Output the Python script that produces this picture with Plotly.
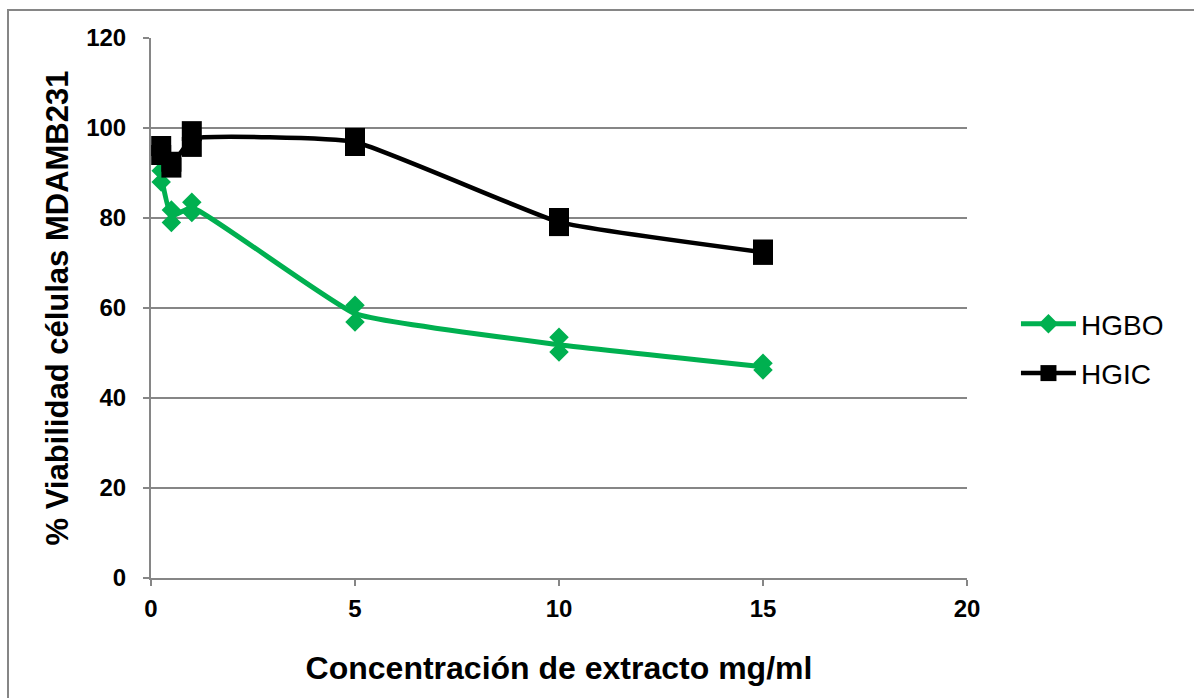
import plotly.graph_objects as go

conc = [0.25, 0.5, 1, 5, 10, 15]
hgbo_rep1 = [90.5, 81.8, 83.5, 60.6, 53.5, 47.7]
hgbo_rep2 = [88.0, 79.0, 81.2, 56.9, 50.2, 46.2]
hgic_rep1 = [96.0, 92.5, 99.3, 97.8, 80.0, 73.0]
hgic_rep2 = [94.0, 91.2, 95.8, 96.0, 78.2, 71.8]

x_ticks = [0, 5, 10, 15, 20]
y_ticks = [0, 20, 40, 60, 80, 100, 120]

GREEN = "#00B050"
BLACK = "#000000"
GRID = "#868686"

def mean(a, b):
    return [(u + v) / 2 for u, v in zip(a, b)]

fig = go.Figure()

series = [
    ("HGBO", hgbo_rep1, hgbo_rep2, GREEN, "diamond", 15, 5),
    ("HGIC", hgic_rep1, hgic_rep2, BLACK, "square", 20, 4.5),
]

for name, r1, r2, col, sym, msize, lw in series:
    fig.add_trace(go.Scatter(
        x=conc, y=mean(r1, r2), mode="lines",
        line=dict(color=col, width=lw, shape="spline", smoothing=0.35),
        showlegend=False, hoverinfo="skip"))
    fig.add_trace(go.Scatter(
        x=conc + conc, y=r1 + r2, mode="markers",
        marker=dict(symbol=sym, size=msize, color=col, line=dict(width=0)),
        showlegend=False))
    fig.add_trace(go.Scatter(
        x=[None], y=[None], mode="lines+markers", name=name, legendgroup=name,
        line=dict(color=col, width=lw),
        marker=dict(symbol=sym, size=msize, color=col)))

fig.update_layout(
    width=1194, height=698,
    margin=dict(l=151, r=227, t=38, b=120),
    paper_bgcolor="white", plot_bgcolor="white",
    font=dict(family="Liberation Sans, Arial, sans-serif", color="black"),
    legend=dict(x=1.06, y=0.425, xanchor="left", yanchor="middle",
                font=dict(size=28, color="black"), itemwidth=55,
                tracegroupgap=10),
    showlegend=True,
)

fig.update_xaxes(
    range=[0, 20], tickvals=x_ticks, ticktext=["<b>%d</b>" % v for v in x_ticks],
    showgrid=False, zeroline=False,
    showline=True, linecolor=GRID, linewidth=2,
    ticks="outside", ticklen=6, tickcolor=GRID, tickwidth=2,
    tickfont=dict(size=24, color="black"), ticklabelstandoff=2,
    title=dict(text="<b>Concentración de extracto mg/ml</b>",
               font=dict(size=32, color="black"), standoff=36),
)
fig.update_yaxes(
    range=[0, 120], tickvals=y_ticks, ticktext=["<b>%d</b>" % v for v in y_ticks],
    showgrid=True, gridcolor=GRID, gridwidth=2, zeroline=False,
    showline=True, linecolor=GRID, linewidth=2,
    ticks="outside", ticklen=6, tickcolor=GRID, tickwidth=2,
    tickfont=dict(size=24, color="black"), ticklabelstandoff=12,
    title=dict(text="<b>% Viabilidad células MDAMB231</b>",
               font=dict(size=31, color="black"), standoff=8),
)

# chart-area border
fig.add_shape(type="rect", xref="paper", yref="paper",
              x0=(8 - 151) / 816, x1=(1200 - 151) / 816,
              y0=(578 - 705) / 540, y1=(578 - 10) / 540,
              line=dict(color=GRID, width=2), fillcolor="rgba(0,0,0,0)",
              layer="below")

fig.write_html("out.html")
